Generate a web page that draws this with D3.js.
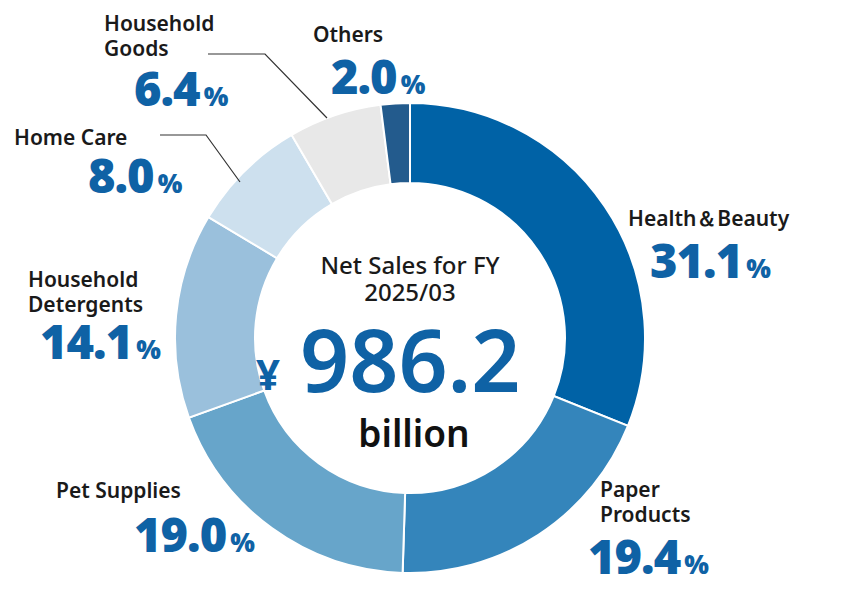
<!DOCTYPE html>
<html><head><meta charset="utf-8">
<script src="https://cdn.jsdelivr.net/npm/d3@7"></script>
<style>
body{margin:0;background:#fff;font-family:"Noto Sans",sans-serif;}
</style></head>
<body><svg id="chart" width="844" height="609"></svg>
<script>
// Segmentos (sentido horário a partir do topo)
const categories = ["Health＆Beauty", "Paper Products", "Pet Supplies", "Household Detergents", "Home Care", "Household Goods", "Others"];
const shares = [31.1, 19.4, 19.0, 14.1, 8.0, 6.4, 2.0];
const colors = ["#0062a6", "#3485bb", "#67a5ca", "#9ac0dc", "#cde0ee", "#e8e8e8", "#235b8d"];

// Rótulos: linhas do nome, posição e tamanho
const labels = [
  { lines: ["Health＆Beauty"], x: 628, y: 226, px: 650, py: 278 },
  { lines: ["Paper", "Products"], x: 600, y: 497, px: 588, py: 574 },
  { lines: ["Pet Supplies"], x: 56, y: 498, px: 134, py: 552 },
  { lines: ["Household", "Detergents"], x: 28, y: 287, px: 40, py: 359 },
  { lines: ["Home Care"], x: 14, y: 145, px: 88, py: 193 },
  { lines: ["Household", "Goods"], x: 104, y: 31, px: 134, py: 106 },
  { lines: ["Others"], x: 313, y: 42, px: 331, py: 94 }
];

const svg = d3.select("#chart");
const cx = 410, cy = 338, rOuter = 235, rInner = 155;

const pie = d3.pie().sort(null).value(d => d)(shares);
const arc = d3.arc().innerRadius(rInner).outerRadius(rOuter);

const g = svg.append("g").attr("transform", `translate(${cx},${cy})`);
g.selectAll("path").data(pie).enter().append("path")
  .attr("d", arc)
  .attr("fill", (d, i) => colors[i])
  .attr("stroke", "#fff").attr("stroke-width", 2);

// Linhas de chamada
svg.append("polyline").attr("points", "208,54 265,54 327,118")
  .attr("fill", "none").attr("stroke", "#333").attr("stroke-width", 1.2);
svg.append("polyline").attr("points", "160,135 206,135 240,182")
  .attr("fill", "none").attr("stroke", "#333").attr("stroke-width", 1.2);

labels.forEach((l, i) => {
  const t = svg.append("text").attr("x", l.x).attr("y", l.y)
    .attr("font-size", 21).attr("font-weight", 600).attr("fill", "#1a1a1a");
  l.lines.forEach((s, j) => t.append("tspan").attr("x", l.x).attr("dy", j ? 25 : 0).text(s));
  const p = svg.append("text").attr("x", l.px).attr("y", l.py)
    .attr("fill", "#0f62a5").attr("font-weight", 900);
  p.append("tspan").attr("font-size", 47).attr("letter-spacing", -1).text(shares[i].toFixed(1));
  p.append("tspan").attr("font-size", 26).attr("dx", 4).text("%");
});

// Texto central
svg.append("text").attr("x", cx).attr("y", 274).attr("text-anchor", "middle")
  .attr("font-size", 24).attr("font-weight", 500).attr("fill", "#1a1a1a").text("Net Sales for FY");
svg.append("text").attr("x", cx).attr("y", 301).attr("text-anchor", "middle")
  .attr("font-size", 24).attr("font-weight", 500).attr("fill", "#1a1a1a").text("2025/03");
svg.append("text").attr("x", 256).attr("y", 390)
  .attr("font-size", 42).attr("font-weight", 700).attr("fill", "#0f62a5").text("¥");
svg.append("text").attr("x", 300).attr("y", 392)
  .attr("font-size", 86).attr("font-weight", 600).attr("fill", "#0f62a5").text("986.2");
svg.append("text").attr("x", 414).attr("y", 447).attr("text-anchor", "middle")
  .attr("font-size", 37).attr("font-weight", 600).attr("fill", "#111").text("billion");
</script></body></html>
